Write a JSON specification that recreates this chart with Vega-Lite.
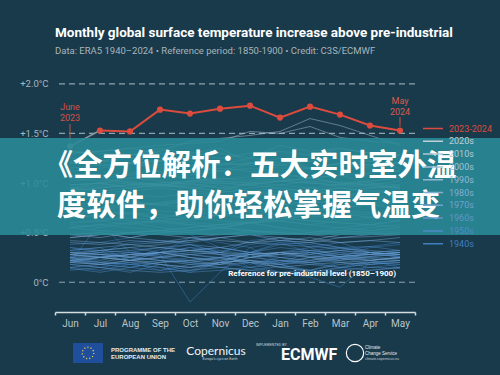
{
  "$schema": "https://vega.github.io/schema/vega-lite/v6.json",
  "width": 360,
  "height": 248,
  "autosize": "none",
  "padding": {"left": 55, "top": 64, "right": 85, "bottom": 63},
  "background": "#193a4b",
  "config": {
    "view": {"stroke": null},
    "font": "Roboto",
    "legend": {"labelColor": "#9fb4c4"}
  },
  "title": {
    "text": "Monthly global surface temperature increase above pre-industrial",
    "subtitle": "Data: ERA5 1940–2024 • Reference period: 1850-1900 • Credit: C3S/ECMWF",
    "anchor": "start",
    "frame": "group",
    "color": "#ffffff",
    "font": "Roboto",
    "fontWeight": "bold",
    "fontSize": 13.5,
    "subtitleColor": "#a8b5bc",
    "subtitleFont": "Roboto",
    "subtitleFontSize": 9.5,
    "subtitlePadding": 6,
    "offset": 9
  },
  "data": {"values": [{}]},
  "datasets": {
    "hist": [
      {"yr":1940,"grp":"1940s","Jun":0.30,"Jul":0.28,"Aug":0.25,"Sep":0.33,"Oct":0.38,"Nov":0.30,"Dec":0.42,"Jan":0.45,"Feb":0.35,"Mar":0.40,"Apr":0.30,"May":0.28},
      {"yr":1941,"grp":"1940s","Jun":0.32,"Jul":0.35,"Aug":0.22,"Sep":0.30,"Oct":0.45,"Nov":0.40,"Dec":0.35,"Jan":0.20,"Feb":0.30,"Mar":0.25,"Apr":0.35,"May":0.38},
      {"yr":1942,"grp":"1940s","Jun":0.25,"Jul":0.20,"Aug":0.18,"Sep":0.15,"Oct":0.10,"Nov":0.20,"Dec":0.30,"Jan":0.25,"Feb":0.28,"Mar":0.22,"Apr":0.30,"May":0.25},
      {"yr":1943,"grp":"1940s","Jun":0.20,"Jul":0.60,"Aug":0.30,"Sep":0.28,"Oct":-0.20,"Nov":0.10,"Dec":0.35,"Jan":0.40,"Feb":0.30,"Mar":0.25,"Apr":0.28,"May":0.30},
      {"yr":1944,"grp":"1940s","Jun":0.38,"Jul":0.40,"Aug":0.45,"Sep":0.50,"Oct":0.48,"Nov":0.35,"Dec":0.30,"Jan":0.40,"Feb":0.38,"Mar":0.32,"Apr":0.36,"May":0.40},
      {"yr":1945,"grp":"1940s","Jun":0.35,"Jul":0.30,"Aug":0.40,"Sep":0.42,"Oct":0.38,"Nov":0.30,"Dec":0.15,"Jan":0.22,"Feb":0.20,"Mar":0.25,"Apr":0.18,"May":0.22},
      {"yr":1946,"grp":"1940s","Jun":0.22,"Jul":0.18,"Aug":0.15,"Sep":0.20,"Oct":0.25,"Nov":0.22,"Dec":0.28,"Jan":0.18,"Feb":0.12,"Mar":0.20,"Apr":0.15,"May":0.18},
      {"yr":1947,"grp":"1940s","Jun":0.20,"Jul":0.25,"Aug":0.22,"Sep":0.30,"Oct":0.35,"Nov":0.28,"Dec":0.18,"Jan":0.25,"Feb":0.20,"Mar":0.15,"Apr":0.22,"May":0.25},
      {"yr":1948,"grp":"1940s","Jun":0.24,"Jul":0.20,"Aug":0.18,"Sep":0.22,"Oct":0.20,"Nov":0.15,"Dec":0.20,"Jan":0.10,"Feb":0.05,"Mar":-0.05,"Apr":0.20,"May":0.18},
      {"yr":1949,"grp":"1940s","Jun":0.18,"Jul":0.15,"Aug":0.20,"Sep":0.12,"Oct":0.15,"Nov":0.20,"Dec":0.22,"Jan":0.18,"Feb":0.25,"Mar":0.30,"Apr":0.22,"May":0.15},
      {"yr":1950,"grp":"1950s","Jun":0.12,"Jul":0.15,"Aug":0.10,"Sep":0.18,"Oct":0.12,"Nov":0.20,"Dec":0.15,"Jan":0.18,"Feb":0.10,"Mar":0.14,"Apr":0.20,"May":0.22},
      {"yr":1951,"grp":"1950s","Jun":0.20,"Jul":0.25,"Aug":0.28,"Sep":0.30,"Oct":0.35,"Nov":0.32,"Dec":0.28,"Jan":0.30,"Feb":0.35,"Mar":0.25,"Apr":0.30,"May":0.32},
      {"yr":1952,"grp":"1950s","Jun":0.28,"Jul":0.30,"Aug":0.25,"Sep":0.22,"Oct":0.20,"Nov":0.18,"Dec":0.25,"Jan":0.28,"Feb":0.30,"Mar":0.32,"Apr":0.28,"May":0.26},
      {"yr":1953,"grp":"1950s","Jun":0.30,"Jul":0.32,"Aug":0.35,"Sep":0.30,"Oct":0.28,"Nov":0.25,"Dec":0.30,"Jan":0.35,"Feb":0.32,"Mar":0.30,"Apr":0.28,"May":0.30},
      {"yr":1954,"grp":"1950s","Jun":0.22,"Jul":0.18,"Aug":0.15,"Sep":0.20,"Oct":0.22,"Nov":0.25,"Dec":0.20,"Jan":0.22,"Feb":0.18,"Mar":0.15,"Apr":0.12,"May":0.15},
      {"yr":1955,"grp":"1950s","Jun":0.15,"Jul":0.12,"Aug":0.18,"Sep":0.15,"Oct":0.10,"Nov":0.12,"Dec":0.15,"Jan":0.10,"Feb":0.12,"Mar":0.08,"Apr":0.12,"May":0.15},
      {"yr":1956,"grp":"1950s","Jun":0.14,"Jul":0.10,"Aug":0.15,"Sep":0.12,"Oct":0.18,"Nov":0.15,"Dec":0.12,"Jan":0.16,"Feb":0.10,"Mar":0.15,"Apr":0.18,"May":0.20},
      {"yr":1957,"grp":"1950s","Jun":0.25,"Jul":0.28,"Aug":0.30,"Sep":0.35,"Oct":0.32,"Nov":0.30,"Dec":0.38,"Jan":0.42,"Feb":0.40,"Mar":0.35,"Apr":0.36,"May":0.32},
      {"yr":1958,"grp":"1950s","Jun":0.35,"Jul":0.32,"Aug":0.30,"Sep":0.28,"Oct":0.32,"Nov":0.35,"Dec":0.30,"Jan":0.38,"Feb":0.40,"Mar":0.35,"Apr":0.30,"May":0.28},
      {"yr":1959,"grp":"1950s","Jun":0.28,"Jul":0.25,"Aug":0.30,"Sep":0.26,"Oct":0.22,"Nov":0.25,"Dec":0.30,"Jan":0.28,"Feb":0.32,"Mar":0.35,"Apr":0.30,"May":0.26},
      {"yr":1960,"grp":"1960s","Jun":0.25,"Jul":0.22,"Aug":0.28,"Sep":0.30,"Oct":0.25,"Nov":0.20,"Dec":0.28,"Jan":0.30,"Feb":0.25,"Mar":0.22,"Apr":0.26,"May":0.28},
      {"yr":1961,"grp":"1960s","Jun":0.30,"Jul":0.28,"Aug":0.25,"Sep":0.30,"Oct":0.32,"Nov":0.28,"Dec":0.25,"Jan":0.30,"Feb":0.32,"Mar":0.28,"Apr":0.30,"May":0.32},
      {"yr":1962,"grp":"1960s","Jun":0.28,"Jul":0.25,"Aug":0.22,"Sep":0.25,"Oct":0.28,"Nov":0.30,"Dec":0.25,"Jan":0.28,"Feb":0.30,"Mar":0.26,"Apr":0.22,"May":0.25},
      {"yr":1963,"grp":"1960s","Jun":0.26,"Jul":0.30,"Aug":0.32,"Sep":0.35,"Oct":0.38,"Nov":0.35,"Dec":0.30,"Jan":0.28,"Feb":0.25,"Mar":0.20,"Apr":0.18,"May":0.20},
      {"yr":1964,"grp":"1960s","Jun":0.18,"Jul":0.15,"Aug":0.12,"Sep":0.10,"Oct":0.12,"Nov":0.15,"Dec":0.12,"Jan":0.10,"Feb":0.08,"Mar":0.12,"Apr":0.15,"May":0.14},
      {"yr":1965,"grp":"1960s","Jun":0.15,"Jul":0.18,"Aug":0.20,"Sep":0.18,"Oct":0.15,"Nov":0.20,"Dec":0.22,"Jan":0.18,"Feb":0.20,"Mar":0.22,"Apr":0.25,"May":0.24},
      {"yr":1966,"grp":"1960s","Jun":0.24,"Jul":0.26,"Aug":0.22,"Sep":0.25,"Oct":0.20,"Nov":0.25,"Dec":0.22,"Jan":0.20,"Feb":0.25,"Mar":0.28,"Apr":0.24,"May":0.22},
      {"yr":1967,"grp":"1960s","Jun":0.22,"Jul":0.25,"Aug":0.28,"Sep":0.26,"Oct":0.30,"Nov":0.28,"Dec":0.25,"Jan":0.22,"Feb":0.20,"Mar":0.24,"Apr":0.26,"May":0.28},
      {"yr":1968,"grp":"1960s","Jun":0.20,"Jul":0.18,"Aug":0.22,"Sep":0.25,"Oct":0.28,"Nov":0.24,"Dec":0.20,"Jan":0.18,"Feb":0.22,"Mar":0.26,"Apr":0.28,"May":0.30},
      {"yr":1969,"grp":"1960s","Jun":0.32,"Jul":0.35,"Aug":0.38,"Sep":0.40,"Oct":0.42,"Nov":0.45,"Dec":0.40,"Jan":0.38,"Feb":0.36,"Mar":0.34,"Apr":0.32,"May":0.30},
      {"yr":1970,"grp":"1970s","Jun":0.30,"Jul":0.28,"Aug":0.26,"Sep":0.30,"Oct":0.25,"Nov":0.22,"Dec":0.28,"Jan":0.30,"Feb":0.26,"Mar":0.24,"Apr":0.22,"May":0.25},
      {"yr":1971,"grp":"1970s","Jun":0.20,"Jul":0.18,"Aug":0.22,"Sep":0.18,"Oct":0.15,"Nov":0.18,"Dec":0.20,"Jan":0.15,"Feb":0.12,"Mar":0.18,"Apr":0.20,"May":0.22},
      {"yr":1972,"grp":"1970s","Jun":0.28,"Jul":0.32,"Aug":0.35,"Sep":0.38,"Oct":0.42,"Nov":0.45,"Dec":0.48,"Jan":0.45,"Feb":0.42,"Mar":0.40,"Apr":0.42,"May":0.40},
      {"yr":1973,"grp":"1970s","Jun":0.42,"Jul":0.40,"Aug":0.38,"Sep":0.35,"Oct":0.32,"Nov":0.30,"Dec":0.28,"Jan":0.25,"Feb":0.22,"Mar":0.26,"Apr":0.28,"May":0.30},
      {"yr":1974,"grp":"1970s","Jun":0.22,"Jul":0.20,"Aug":0.25,"Sep":0.22,"Oct":0.18,"Nov":0.20,"Dec":0.22,"Jan":0.15,"Feb":0.18,"Mar":0.20,"Apr":0.22,"May":0.25},
      {"yr":1975,"grp":"1970s","Jun":0.28,"Jul":0.25,"Aug":0.22,"Sep":0.20,"Oct":0.22,"Nov":0.18,"Dec":0.25,"Jan":0.30,"Feb":0.28,"Mar":0.32,"Apr":0.30,"May":0.28},
      {"yr":1976,"grp":"1970s","Jun":0.22,"Jul":0.25,"Aug":0.28,"Sep":0.30,"Oct":0.32,"Nov":0.35,"Dec":0.40,"Jan":0.42,"Feb":0.45,"Mar":0.40,"Apr":0.42,"May":0.45},
      {"yr":1977,"grp":"1970s","Jun":0.48,"Jul":0.50,"Aug":0.45,"Sep":0.42,"Oct":0.40,"Nov":0.45,"Dec":0.48,"Jan":0.42,"Feb":0.40,"Mar":0.45,"Apr":0.48,"May":0.50},
      {"yr":1978,"grp":"1970s","Jun":0.40,"Jul":0.38,"Aug":0.42,"Sep":0.40,"Oct":0.45,"Nov":0.48,"Dec":0.50,"Jan":0.52,"Feb":0.48,"Mar":0.45,"Apr":0.46,"May":0.48},
      {"yr":1979,"grp":"1970s","Jun":0.45,"Jul":0.48,"Aug":0.50,"Sep":0.52,"Oct":0.55,"Nov":0.58,"Dec":0.60,"Jan":0.55,"Feb":0.52,"Mar":0.50,"Apr":0.48,"May":0.50},
      {"yr":1980,"grp":"1980s","Jun":0.55,"Jul":0.58,"Aug":0.55,"Sep":0.52,"Oct":0.50,"Nov":0.55,"Dec":0.52,"Jan":0.48,"Feb":0.50,"Mar":0.55,"Apr":0.58,"May":0.56},
      {"yr":1981,"grp":"1980s","Jun":0.58,"Jul":0.55,"Aug":0.60,"Sep":0.55,"Oct":0.52,"Nov":0.55,"Dec":0.60,"Jan":0.62,"Feb":0.58,"Mar":0.55,"Apr":0.52,"May":0.55},
      {"yr":1982,"grp":"1980s","Jun":0.48,"Jul":0.50,"Aug":0.45,"Sep":0.50,"Oct":0.52,"Nov":0.55,"Dec":0.60,"Jan":0.55,"Feb":0.50,"Mar":0.52,"Apr":0.55,"May":0.58},
      {"yr":1983,"grp":"1980s","Jun":0.60,"Jul":0.62,"Aug":0.65,"Sep":0.62,"Oct":0.58,"Nov":0.55,"Dec":0.52,"Jan":0.50,"Feb":0.48,"Mar":0.52,"Apr":0.50,"May":0.48},
      {"yr":1984,"grp":"1980s","Jun":0.45,"Jul":0.48,"Aug":0.50,"Sep":0.48,"Oct":0.45,"Nov":0.42,"Dec":0.40,"Jan":0.45,"Feb":0.42,"Mar":0.48,"Apr":0.50,"May":0.52},
      {"yr":1985,"grp":"1980s","Jun":0.48,"Jul":0.45,"Aug":0.50,"Sep":0.52,"Oct":0.50,"Nov":0.48,"Dec":0.52,"Jan":0.50,"Feb":0.48,"Mar":0.50,"Apr":0.52,"May":0.55},
      {"yr":1986,"grp":"1980s","Jun":0.55,"Jul":0.58,"Aug":0.60,"Sep":0.62,"Oct":0.65,"Nov":0.68,"Dec":0.65,"Jan":0.62,"Feb":0.68,"Mar":0.70,"Apr":0.65,"May":0.62},
      {"yr":1987,"grp":"1980s","Jun":0.68,"Jul":0.72,"Aug":0.75,"Sep":0.72,"Oct":0.70,"Nov":0.68,"Dec":0.72,"Jan":0.75,"Feb":0.70,"Mar":0.68,"Apr":0.66,"May":0.70},
      {"yr":1988,"grp":"1980s","Jun":0.68,"Jul":0.65,"Aug":0.62,"Sep":0.60,"Oct":0.58,"Nov":0.55,"Dec":0.60,"Jan":0.65,"Feb":0.62,"Mar":0.60,"Apr":0.58,"May":0.62},
      {"yr":1989,"grp":"1980s","Jun":0.60,"Jul":0.62,"Aug":0.58,"Sep":0.62,"Oct":0.60,"Nov":0.58,"Dec":0.62,"Jan":0.68,"Feb":0.65,"Mar":0.70,"Apr":0.68,"May":0.66},
      {"yr":1990,"grp":"1990s","Jun":0.70,"Jul":0.72,"Aug":0.68,"Sep":0.65,"Oct":0.70,"Nov":0.72,"Dec":0.75,"Jan":0.72,"Feb":0.70,"Mar":0.75,"Apr":0.78,"May":0.74},
      {"yr":1991,"grp":"1990s","Jun":0.75,"Jul":0.72,"Aug":0.70,"Sep":0.68,"Oct":0.65,"Nov":0.62,"Dec":0.60,"Jan":0.65,"Feb":0.62,"Mar":0.60,"Apr":0.58,"May":0.62},
      {"yr":1992,"grp":"1990s","Jun":0.55,"Jul":0.52,"Aug":0.50,"Sep":0.52,"Oct":0.55,"Nov":0.58,"Dec":0.60,"Jan":0.62,"Feb":0.58,"Mar":0.62,"Apr":0.65,"May":0.68},
      {"yr":1993,"grp":"1990s","Jun":0.65,"Jul":0.68,"Aug":0.70,"Sep":0.65,"Oct":0.62,"Nov":0.68,"Dec":0.72,"Jan":0.70,"Feb":0.75,"Mar":0.72,"Apr":0.70,"May":0.72},
      {"yr":1994,"grp":"1990s","Jun":0.72,"Jul":0.75,"Aug":0.78,"Sep":0.80,"Oct":0.82,"Nov":0.78,"Dec":0.75,"Jan":0.78,"Feb":0.80,"Mar":0.82,"Apr":0.78,"May":0.80},
      {"yr":1995,"grp":"1990s","Jun":0.78,"Jul":0.80,"Aug":0.82,"Sep":0.78,"Oct":0.75,"Nov":0.72,"Dec":0.70,"Jan":0.68,"Feb":0.72,"Mar":0.75,"Apr":0.78,"May":0.76},
      {"yr":1996,"grp":"1990s","Jun":0.74,"Jul":0.72,"Aug":0.78,"Sep":0.80,"Oct":0.85,"Nov":0.88,"Dec":0.90,"Jan":0.92,"Feb":0.95,"Mar":0.98,"Apr":1.00,"May":0.95},
      {"yr":1997,"grp":"1990s","Jun":0.95,"Jul":1.00,"Aug":1.05,"Sep":1.02,"Oct":0.98,"Nov":0.95,"Dec":0.92,"Jan":0.88,"Feb":0.85,"Mar":0.82,"Apr":0.80,"May":0.82},
      {"yr":1998,"grp":"1990s","Jun":0.78,"Jul":0.75,"Aug":0.80,"Sep":0.78,"Oct":0.82,"Nov":0.85,"Dec":0.80,"Jan":0.78,"Feb":0.82,"Mar":0.80,"Apr":0.85,"May":0.82},
      {"yr":1999,"grp":"1990s","Jun":0.82,"Jul":0.85,"Aug":0.80,"Sep":0.78,"Oct":0.82,"Nov":0.85,"Dec":0.88,"Jan":0.90,"Feb":0.92,"Mar":0.88,"Apr":0.85,"May":0.88},
      {"yr":2000,"grp":"2000s","Jun":0.88,"Jul":0.90,"Aug":0.92,"Sep":0.95,"Oct":0.92,"Nov":0.90,"Dec":0.95,"Jan":0.98,"Feb":0.95,"Mar":0.92,"Apr":0.95,"May":0.96},
      {"yr":2001,"grp":"2000s","Jun":0.95,"Jul":0.98,"Aug":1.00,"Sep":0.98,"Oct":0.95,"Nov":0.92,"Dec":1.00,"Jan":1.02,"Feb":1.05,"Mar":1.08,"Apr":1.00,"May":0.98},
      {"yr":2002,"grp":"2000s","Jun":0.98,"Jul":1.00,"Aug":0.95,"Sep":0.98,"Oct":1.02,"Nov":1.00,"Dec":0.98,"Jan":0.95,"Feb":0.92,"Mar":0.95,"Apr":0.98,"May":0.95},
      {"yr":2003,"grp":"2000s","Jun":0.95,"Jul":0.92,"Aug":0.95,"Sep":0.98,"Oct":1.00,"Nov":1.02,"Dec":1.00,"Jan":0.98,"Feb":1.02,"Mar":0.95,"Apr":0.92,"May":0.90},
      {"yr":2004,"grp":"2000s","Jun":0.92,"Jul":0.95,"Aug":0.98,"Sep":1.00,"Oct":1.02,"Nov":1.05,"Dec":1.02,"Jan":1.08,"Feb":1.05,"Mar":1.00,"Apr":0.98,"May":0.96},
      {"yr":2005,"grp":"2000s","Jun":0.98,"Jul":1.00,"Aug":0.95,"Sep":0.98,"Oct":0.96,"Nov":0.92,"Dec":0.90,"Jan":0.88,"Feb":0.92,"Mar":0.95,"Apr":0.92,"May":0.94},
      {"yr":2006,"grp":"2000s","Jun":0.94,"Jul":0.96,"Aug":0.98,"Sep":1.00,"Oct":1.02,"Nov":1.04,"Dec":1.06,"Jan":1.02,"Feb":1.00,"Mar":0.98,"Apr":0.96,"May":0.95},
      {"yr":2007,"grp":"2000s","Jun":0.92,"Jul":0.90,"Aug":0.88,"Sep":0.86,"Oct":0.90,"Nov":0.88,"Dec":0.85,"Jan":0.82,"Feb":0.85,"Mar":0.88,"Apr":0.90,"May":0.92},
      {"yr":2008,"grp":"2000s","Jun":0.92,"Jul":0.95,"Aug":0.98,"Sep":0.96,"Oct":0.98,"Nov":1.00,"Dec":0.98,"Jan":1.02,"Feb":1.05,"Mar":1.00,"Apr":0.98,"May":1.02},
      {"yr":2009,"grp":"2000s","Jun":1.02,"Jul":1.05,"Aug":1.08,"Sep":1.10,"Oct":1.08,"Nov":1.12,"Dec":1.15,"Jan":1.12,"Feb":1.15,"Mar":1.18,"Apr":1.15,"May":1.12},
      {"yr":2010,"grp":"2010s","Jun":1.08,"Jul":1.05,"Aug":1.00,"Sep":0.98,"Oct":0.95,"Nov":0.98,"Dec":0.92,"Jan":0.95,"Feb":0.90,"Mar":0.92,"Apr":0.95,"May":0.98},
      {"yr":2011,"grp":"2010s","Jun":0.98,"Jul":1.00,"Aug":1.02,"Sep":0.98,"Oct":1.00,"Nov":0.95,"Dec":0.98,"Jan":1.02,"Feb":1.00,"Mar":0.98,"Apr":1.02,"May":1.05},
      {"yr":2012,"grp":"2010s","Jun":1.05,"Jul":1.02,"Aug":1.05,"Sep":1.08,"Oct":1.05,"Nov":1.02,"Dec":1.00,"Jan":1.05,"Feb":1.02,"Mar":1.00,"Apr":1.02,"May":1.05},
      {"yr":2013,"grp":"2010s","Jun":1.05,"Jul":1.08,"Aug":1.10,"Sep":1.12,"Oct":1.10,"Nov":1.15,"Dec":1.12,"Jan":1.10,"Feb":1.05,"Mar":1.08,"Apr":1.10,"May":1.12},
      {"yr":2014,"grp":"2010s","Jun":1.12,"Jul":1.15,"Aug":1.20,"Sep":1.18,"Oct":1.22,"Nov":1.18,"Dec":1.25,"Jan":1.20,"Feb":1.22,"Mar":1.25,"Apr":1.22,"May":1.20},
      {"yr":2015,"grp":"2010s","Jun":1.22,"Jul":1.22,"Aug":1.28,"Sep":1.32,"Oct":1.42,"Nov":1.45,"Dec":1.48,"Jan":1.52,"Feb":1.65,"Mar":1.58,"Apr":1.48,"May":1.38},
      {"yr":2016,"grp":"2010s","Jun":1.30,"Jul":1.32,"Aug":1.35,"Sep":1.30,"Oct":1.28,"Nov":1.30,"Dec":1.25,"Jan":1.38,"Feb":1.32,"Mar":1.35,"Apr":1.30,"May":1.28},
      {"yr":2017,"grp":"2010s","Jun":1.25,"Jul":1.22,"Aug":1.25,"Sep":1.22,"Oct":1.25,"Nov":1.20,"Dec":1.18,"Jan":1.15,"Feb":1.15,"Mar":1.20,"Apr":1.22,"May":1.20},
      {"yr":2018,"grp":"2010s","Jun":1.20,"Jul":1.18,"Aug":1.20,"Sep":1.22,"Oct":1.28,"Nov":1.25,"Dec":1.30,"Jan":1.32,"Feb":1.28,"Mar":1.35,"Apr":1.30,"May":1.28},
      {"yr":2019,"grp":"2010s","Jun":1.30,"Jul":1.32,"Aug":1.35,"Sep":1.38,"Oct":1.40,"Nov":1.42,"Dec":1.52,"Jan":1.50,"Feb":1.57,"Mar":1.46,"Apr":1.42,"May":1.40},
      {"yr":2020,"grp":"2020s","Jun":1.32,"Jul":1.30,"Aug":1.28,"Sep":1.35,"Oct":1.30,"Nov":1.35,"Dec":1.20,"Jan":1.18,"Feb":1.15,"Mar":1.20,"Apr":1.18,"May":1.15},
      {"yr":2021,"grp":"2020s","Jun":1.15,"Jul":1.18,"Aug":1.20,"Sep":1.22,"Oct":1.25,"Nov":1.18,"Dec":1.20,"Jan":1.25,"Feb":1.15,"Mar":1.20,"Apr":1.18,"May":1.20},
      {"yr":2022,"grp":"2020s","Jun":1.20,"Jul":1.22,"Aug":1.20,"Sep":1.15,"Oct":1.18,"Nov":1.12,"Dec":1.20,"Jan":1.18,"Feb":1.22,"Mar":1.30,"Apr":1.25,"May":1.28}
    ],
    "recent": [
      {"grp":"2023-2024","m":"Jul","v":1.53},
      {"grp":"2023-2024","m":"Aug","v":1.52},
      {"grp":"2023-2024","m":"Sep","v":1.74},
      {"grp":"2023-2024","m":"Oct","v":1.70},
      {"grp":"2023-2024","m":"Nov","v":1.75},
      {"grp":"2023-2024","m":"Dec","v":1.78},
      {"grp":"2023-2024","m":"Jan","v":1.66},
      {"grp":"2023-2024","m":"Feb","v":1.77},
      {"grp":"2023-2024","m":"Mar","v":1.69},
      {"grp":"2023-2024","m":"Apr","v":1.58},
      {"grp":"2023-2024","m":"May","v":1.53}
    ],
    "start": [
      {"m":"Jun","v":1.37},
      {"m":"Jul","v":1.53}
    ],
    "refs": [
      {"g":0},
      {"g":1.5},
      {"g":2.0}
    ]
  },
  "layer": [
    {
      "layer": [
        {
          "data": {"name": "refs"},
          "mark": {"type": "rule", "stroke": "#8da3ae", "strokeWidth": 1.2, "strokeDash": [6, 4]},
          "encoding": {
            "y": {"field": "g", "type": "quantitative", "scale": {"domain": [-0.3, 2.2], "nice": false, "zero": false},
              "axis": {"values": [0, 0.5, 1, 1.5, 2], "labelExpr": "datum.value == 0 ? '0°C' : '+' + format(datum.value, '.1f') + '°C'", "title": null, "domain": false, "ticks": false, "grid": false, "labelColor": "#aab6bd", "labelFontSize": 9.5, "labelPadding": 7}}
          }
        },
        {
          "data": {"name": "hist"},
          "transform": [{"fold": ["Jun","Jul","Aug","Sep","Oct","Nov","Dec","Jan","Feb","Mar","Apr","May"], "as": ["m", "v"]}],
          "mark": {"type": "line", "strokeWidth": 0.8, "opacity": 0.6},
          "encoding": {
            "x": {"field": "m", "type": "ordinal", "scale": {"type": "band", "domain": ["Jun","Jul","Aug","Sep","Oct","Nov","Dec","Jan","Feb","Mar","Apr","May"], "paddingInner": 0, "paddingOuter": 0},
              "axis": {"title": null, "tickBand": "extent", "labelAngle": 0, "domainColor": "#d5dde1", "domainWidth": 1.5, "tickColor": "#d5dde1", "tickSize": 3, "tickWidth": 1.5, "labelColor": "#b9c4c9", "labelFontSize": 10, "labelPadding": 3}},
            "y": {"field": "v", "type": "quantitative"},
            "detail": {"field": "yr"},
            "color": {"field": "grp", "type": "nominal",
              "scale": {"domain": ["2023-2024","2020s","2010s","2000s","1990s","1980s","1970s","1960s","1950s","1940s"],
                        "range": ["#dc4c3e","#c2cfd6","#b3c9d6","#a3c1d6","#93b8d4","#82aed2","#71a2ce","#6096ca","#4f8ac6","#3f7fc2"]},
              "legend": {"title": null, "orient": "none", "legendX": 367, "legendY": 59, "padding": 0,
                "symbolType": "stroke", "symbolSize": 400, "symbolStrokeWidth": 1.5, "clipHeight": 11, "rowPadding": 1.8,
                "labelFontSize": 9, "labelOffset": 5,
                "encode": {"labels": {"update": {"fill": {"signal": "datum.value == '2023-2024' ? '#dc4c3e' : datum.value == '2020s' ? '#c2cfd6' : datum.value == '2010s' ? '#b3c9d6' : datum.value == '2000s' ? '#a3c1d6' : datum.value == '1990s' ? '#93b8d4' : datum.value == '1980s' ? '#82aed2' : datum.value == '1970s' ? '#71a2ce' : datum.value == '1960s' ? '#6096ca' : datum.value == '1950s' ? '#4f8ac6' : '#3f7fc2'"}}}}}}
          }
        },
        {
          "data": {"name": "start"},
          "mark": {"type": "line", "stroke": "#8796a0", "strokeWidth": 1.5},
          "encoding": {"x": {"field": "m", "type": "ordinal"}, "y": {"field": "v", "type": "quantitative"}}
        },
        {
          "data": {"name": "start"},
          "transform": [{"filter": "datum.m == 'Jun'"}],
          "mark": {"type": "point", "filled": true, "fill": "#8796a0", "size": 36, "opacity": 1},
          "encoding": {"x": {"field": "m", "type": "ordinal"}, "y": {"field": "v", "type": "quantitative"}}
        },
        {
          "data": {"name": "recent"},
          "mark": {"type": "line", "strokeWidth": 2},
          "encoding": {
            "x": {"field": "m", "type": "ordinal"},
            "y": {"field": "v", "type": "quantitative"},
            "color": {"field": "grp", "type": "nominal",
              "legend": {"title": null, "orient": "none", "legendX": 367, "legendY": 59, "padding": 0,
                "symbolType": "stroke", "symbolSize": 400, "symbolStrokeWidth": 1.5, "clipHeight": 11, "rowPadding": 1.8,
                "labelFontSize": 9, "labelOffset": 5,
                "encode": {"labels": {"update": {"fill": {"signal": "datum.value == '2023-2024' ? '#dc4c3e' : datum.value == '2020s' ? '#c2cfd6' : datum.value == '2010s' ? '#b3c9d6' : datum.value == '2000s' ? '#a3c1d6' : datum.value == '1990s' ? '#93b8d4' : datum.value == '1980s' ? '#82aed2' : datum.value == '1970s' ? '#71a2ce' : datum.value == '1960s' ? '#6096ca' : datum.value == '1950s' ? '#4f8ac6' : '#3f7fc2'"}}}}}}
          }
        },
        {
          "data": {"name": "recent"},
          "mark": {"type": "point", "filled": true, "fill": "#dc4c3e", "size": 38, "opacity": 1},
          "encoding": {"x": {"field": "m", "type": "ordinal"}, "y": {"field": "v", "type": "quantitative"}}
        },
        {
          "mark": {"type": "rule", "stroke": "#b8574f", "strokeWidth": 1},
          "encoding": {"x": {"datum": "Jun", "type": "ordinal"}, "y": {"datum": 1.595, "type": "quantitative"}, "y2": {"datum": 1.425}}
        },
        {
          "mark": {"type": "rule", "stroke": "#dc4c3e", "strokeWidth": 1},
          "encoding": {"x": {"datum": "May", "type": "ordinal"}, "y": {"datum": 1.665, "type": "quantitative"}, "y2": {"datum": 1.57}}
        },
        {
          "mark": {"type": "text", "text": ["June", "2023"], "color": "#cf5248", "fontSize": 9, "lineHeight": 11, "baseline": "middle", "align": "center"},
          "encoding": {"x": {"datum": "Jun", "type": "ordinal"}, "y": {"datum": 1.766, "type": "quantitative"}}
        },
        {
          "mark": {"type": "text", "text": ["May", "2024"], "color": "#dc5a4e", "fontSize": 9, "lineHeight": 11, "baseline": "middle", "align": "center"},
          "encoding": {"x": {"datum": "May", "type": "ordinal"}, "y": {"datum": 1.827, "type": "quantitative"}}
        },
        {
          "mark": {"type": "text", "text": "Reference for pre-industrial level (1850–1900)", "color": "#ffffff", "fontWeight": "bold", "fontSize": 8, "align": "right", "baseline": "alphabetic", "dx": -4, "dy": -6},
          "encoding": {"x": {"datum": "May", "type": "ordinal"}, "y": {"datum": 0, "type": "quantitative"}}
        }
      ]
    },
    {
      "layer": [
        {
          "mark": {"type": "rect", "fill": "#2a8b97", "opacity": 0.88},
          "encoding": {
            "x": {"datum": 0, "type": "quantitative", "scale": {"domain": [0.11, 0.83], "nice": false, "zero": false}, "axis": null},
            "x2": {"datum": 1},
            "y": {"datum": 0.632, "type": "quantitative", "scale": {"domain": [0.168, 0.829333], "nice": false, "zero": false}, "axis": null},
            "y2": {"datum": 0.3733}
          }
        },
        {
          "mark": {"type": "text", "text": "《全方位解析：五大实时室外温", "font": "Noto Sans CJK SC", "fontWeight": "bold", "fontSize": 29.5, "color": "#ffffff", "align": "center", "baseline": "middle"},
          "encoding": {
            "x": {"datum": 0.5, "type": "quantitative", "scale": {"domain": [0.11, 0.83], "nice": false, "zero": false}, "axis": null},
            "y": {"datum": 0.556, "type": "quantitative", "scale": {"domain": [0.168, 0.829333], "nice": false, "zero": false}, "axis": null}
          }
        },
        {
          "mark": {"type": "text", "text": "度软件，助你轻松掌握气温变", "font": "Noto Sans CJK SC", "fontWeight": "bold", "fontSize": 29.5, "color": "#ffffff", "align": "center", "baseline": "middle"},
          "encoding": {
            "x": {"datum": 0.497, "type": "quantitative", "scale": {"domain": [0.11, 0.83], "nice": false, "zero": false}, "axis": null},
            "y": {"datum": 0.451, "type": "quantitative", "scale": {"domain": [0.168, 0.829333], "nice": false, "zero": false}, "axis": null}
          }
        },
        {
          "mark": {"type": "rect", "fill": "#1f4e9c"},
          "encoding": {
            "x": {"datum": 0.146, "type": "quantitative", "scale": {"domain": [0.11, 0.83], "nice": false, "zero": false}, "axis": null},
            "x2": {"datum": 0.206},
            "y": {"datum": 0.0853, "type": "quantitative", "scale": {"domain": [0.168, 0.829333], "nice": false, "zero": false}, "axis": null},
            "y2": {"datum": 0.032}
          }
        },
        {
          "mark": {"type": "point", "shape": "circle", "filled": false, "stroke": "#f3d64a", "strokeWidth": 1.4, "strokeDash": [1, 2.2], "size": 130, "opacity": 1},
          "encoding": {
            "x": {"datum": 0.176, "type": "quantitative", "scale": {"domain": [0.11, 0.83], "nice": false, "zero": false}, "axis": null},
            "y": {"datum": 0.0587, "type": "quantitative", "scale": {"domain": [0.168, 0.829333], "nice": false, "zero": false}, "axis": null}
          }
        },
        {
          "mark": {"type": "text", "text": ["PROGRAMME OF THE", "EUROPEAN UNION"], "font": "Liberation Sans", "fontWeight": "bold", "fontSize": 6, "lineHeight": 7.5, "color": "#e6ecef", "align": "left", "baseline": "middle"},
          "encoding": {
            "x": {"datum": 0.222, "type": "quantitative", "scale": {"domain": [0.11, 0.83], "nice": false, "zero": false}, "axis": null},
            "y": {"datum": 0.0667, "type": "quantitative", "scale": {"domain": [0.168, 0.829333], "nice": false, "zero": false}, "axis": null}
          }
        },
        {
          "mark": {"type": "text", "text": "Copernicus", "font": "Lato", "fontSize": 12, "color": "#f2f5f7", "align": "center", "baseline": "middle"},
          "encoding": {
            "x": {"datum": 0.432, "type": "quantitative", "scale": {"domain": [0.11, 0.83], "nice": false, "zero": false}, "axis": null},
            "y": {"datum": 0.064, "type": "quantitative", "scale": {"domain": [0.168, 0.829333], "nice": false, "zero": false}, "axis": null}
          }
        },
        {
          "mark": {"type": "text", "text": "Europe's eyes on Earth", "font": "Lato", "fontSize": 3.5, "color": "#d0d8dc", "align": "center", "baseline": "middle"},
          "encoding": {
            "x": {"datum": 0.44, "type": "quantitative", "scale": {"domain": [0.11, 0.83], "nice": false, "zero": false}, "axis": null},
            "y": {"datum": 0.0427, "type": "quantitative", "scale": {"domain": [0.168, 0.829333], "nice": false, "zero": false}, "axis": null}
          }
        },
        {
          "mark": {"type": "text", "text": "IMPLEMENTED BY", "font": "Liberation Sans", "fontSize": 3.5, "color": "#d0d8dc", "align": "left", "baseline": "middle"},
          "encoding": {
            "x": {"datum": 0.512, "type": "quantitative", "scale": {"domain": [0.11, 0.83], "nice": false, "zero": false}, "axis": null},
            "y": {"datum": 0.08, "type": "quantitative", "scale": {"domain": [0.168, 0.829333], "nice": false, "zero": false}, "axis": null}
          }
        },
        {
          "mark": {"type": "text", "text": "ECMWF", "font": "Roboto", "fontWeight": "bold", "fontSize": 16, "color": "#ffffff", "align": "left", "baseline": "middle"},
          "encoding": {
            "x": {"datum": 0.562, "type": "quantitative", "scale": {"domain": [0.11, 0.83], "nice": false, "zero": false}, "axis": null},
            "y": {"datum": 0.0533, "type": "quantitative", "scale": {"domain": [0.168, 0.829333], "nice": false, "zero": false}, "axis": null}
          }
        },
        {
          "mark": {"type": "point", "shape": "circle", "filled": false, "stroke": "#ffffff", "strokeWidth": 1.2, "size": 300, "opacity": 1},
          "encoding": {
            "x": {"datum": 0.71, "type": "quantitative", "scale": {"domain": [0.11, 0.83], "nice": false, "zero": false}, "axis": null},
            "y": {"datum": 0.0587, "type": "quantitative", "scale": {"domain": [0.168, 0.829333], "nice": false, "zero": false}, "axis": null}
          }
        },
        {
          "mark": {"type": "text", "text": ["Climate", "Change Service"], "font": "Liberation Sans", "fontSize": 4.5, "lineHeight": 5.5, "color": "#e6ecef", "align": "left", "baseline": "middle"},
          "encoding": {
            "x": {"datum": 0.73, "type": "quantitative", "scale": {"domain": [0.11, 0.83], "nice": false, "zero": false}, "axis": null},
            "y": {"datum": 0.0707, "type": "quantitative", "scale": {"domain": [0.168, 0.829333], "nice": false, "zero": false}, "axis": null}
          }
        },
        {
          "mark": {"type": "text", "text": "climate.copernicus.eu", "font": "Liberation Sans", "fontSize": 3.5, "color": "#c8d2d8", "align": "left", "baseline": "middle"},
          "encoding": {
            "x": {"datum": 0.73, "type": "quantitative", "scale": {"domain": [0.11, 0.83], "nice": false, "zero": false}, "axis": null},
            "y": {"datum": 0.0427, "type": "quantitative", "scale": {"domain": [0.168, 0.829333], "nice": false, "zero": false}, "axis": null}
          }
        }
      ]
    }
  ],
  "resolve": {"scale": {"x": "independent", "y": "independent"}}
}
